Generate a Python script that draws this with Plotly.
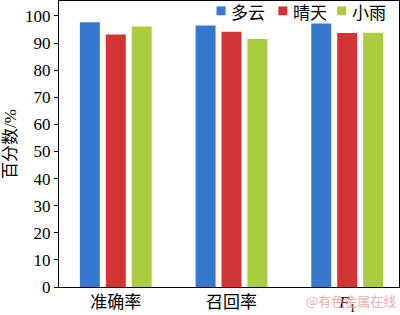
import plotly.graph_objects as go

categories = ["准确率", "召回率", "<i>F</i><sub>1</sub>"]
series_names = ["多云", "晴天", "小雨"]
duoyun = [97.7, 96.5, 97.2]
qingtian = [93.1, 94.2, 93.7]
xiaoyu = [96.1, 91.5, 93.8]
y_ticks = list(range(0, 101, 10))

colors = ["#3677cf", "#d23434", "#a9cd3c"]
font_main = "Liberation Serif"
font_cjk = "Liberation Serif, Noto Sans CJK SC"

# plot area in pixels: x 59..400, y 1..291
L, R, T, B = 59, 400, 1, 291
def px(x):
    return (x - L) / (R - L)
def py(y):
    return (B - y) / (B - T)

fig = go.Figure()
for name, vals, c in zip(series_names, [duoyun, qingtian, xiaoyu], colors):
    fig.add_trace(go.Bar(x=[0, 1, 2], y=vals, name=name, showlegend=False,
                         marker=dict(color=c, line=dict(width=0))))

# compact legend (square + label) like the reference
legend_sq_x = [217, 279, 338]
shapes = []
annotations = []
for name, c, sx in zip(series_names, colors, legend_sq_x):
    shapes.append(dict(type="rect", xref="paper", yref="paper",
                       x0=px(sx), x1=px(sx + 9), y0=py(15.5), y1=py(6.5),
                       fillcolor=c, line=dict(width=0)))
    annotations.append(dict(text=name, xref="paper", yref="paper", x=px(sx + 13), y=py(12),
                            xanchor="left", yanchor="middle", showarrow=False,
                            font=dict(size=17, family="Noto Sans CJK SC", color="black")))

annotations.append(dict(text="@有色金属在线", xref="paper", yref="paper", x=0.997, y=-0.048,
                        xanchor="right", yanchor="middle", showarrow=False,
                        font=dict(size=13, color="rgba(230,150,150,0.8)", family="Noto Sans CJK SC")))

fig.update_layout(
    width=400, height=315,
    margin=dict(l=L, r=400 - R, t=T, b=315 - B),
    barmode="group", bargap=0.328, bargroupgap=0.23,
    plot_bgcolor="white", paper_bgcolor="white",
    font=dict(family=font_main, color="black", size=17),
    showlegend=False,
    xaxis=dict(range=[-0.491, 2.448], tickvals=[0, 1, 2], ticktext=categories,
               showline=True, linecolor="black", linewidth=1, mirror=True,
               ticks="", showgrid=False, zeroline=False,
               tickfont=dict(size=17, family=font_cjk)),
    yaxis=dict(range=[0, 105.5], tickvals=y_ticks, showline=True, linecolor="black",
               linewidth=1, mirror=True, ticks="outside", ticklen=4, tickcolor="black",
               showgrid=False, zeroline=False, tickfont=dict(size=17, family=font_main),
               title=dict(text="百分数/%", standoff=4, font=dict(size=17, family=font_cjk))),
    shapes=shapes,
    annotations=annotations,
)

fig.write_html("out.html")
